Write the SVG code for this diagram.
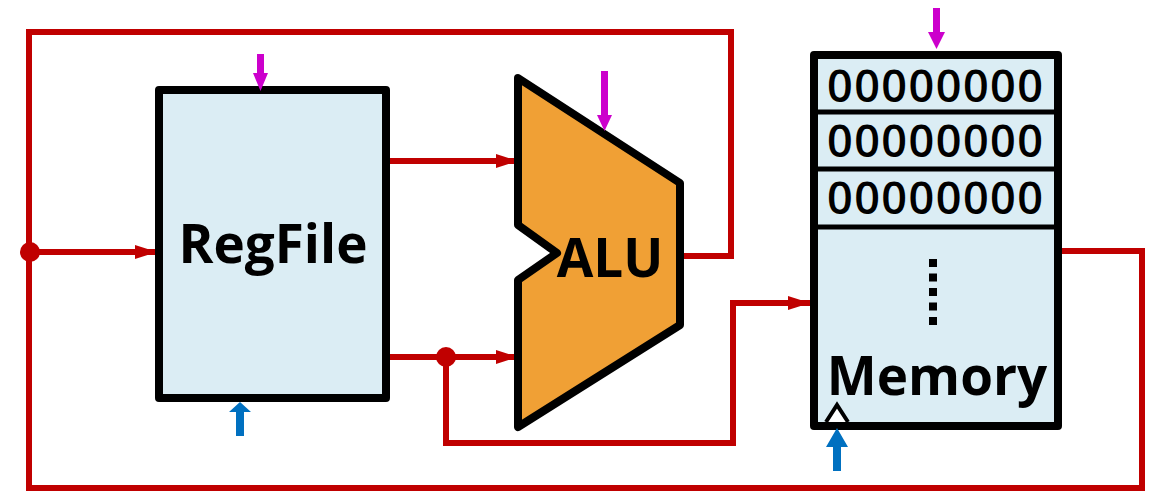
<svg xmlns="http://www.w3.org/2000/svg" width="1162" height="497" viewBox="0 0 1162 497">
<defs>
<style>
.wire{fill:none;stroke:#C00000;stroke-width:6;stroke-linejoin:miter}
.box{fill:#DBEDF4;stroke:#000;stroke-width:8;stroke-linejoin:round}
.lbl{font-family:"Open Sans","Liberation Sans",sans-serif;font-weight:bold;fill:#000}
.bits{font-family:"Open Sans","Liberation Sans",sans-serif;font-weight:600;font-size:45px;fill:#000}
.ctl{fill:#CC00CC}
.clk{fill:#0070C0}
</style>
<marker id="ah" markerUnits="userSpaceOnUse" markerWidth="24" markerHeight="14" refX="22" refY="7" orient="auto">
<path d="M0,0 L22,7 L0,14 Z" fill="#C00000"/>
</marker>
</defs>
<g id="connectors">
<polyline class="wire" points="683,256 731,256 731,32 29,32 29,488 1142,488 1142,251 1058,251"/>
<line class="wire" x1="29" y1="252" x2="157" y2="252" marker-end="url(#ah)"/>
<line class="wire" x1="390" y1="161" x2="518" y2="161" marker-end="url(#ah)"/>
<line class="wire" x1="390" y1="357" x2="518" y2="357" marker-end="url(#ah)"/>
<polyline class="wire" points="446,357 446,443 733,443 733,303 810,303" marker-end="url(#ah)"/>
<circle cx="30" cy="252" r="10" fill="#C00000"/>
<circle cx="446" cy="357" r="10" fill="#C00000"/>
</g>
<g id="regfile">
<rect class="box" x="159" y="90" width="227" height="308"/>
<text class="lbl" x="273" y="263" font-size="53" text-anchor="middle">RegFile</text>
<path class="ctl" d="M257,54 h7 v19 h4 l-7.5,18 l-7.5,-18 h4 z"/>
<path class="clk" d="M236,436 v-24 h-7 l11,-10 l11,10 h-7 v24 z"/>
</g>
<g id="alu">
<polygon points="518,78 680,183 680,325 518,427 518,280 557,253 518,225" fill="#F0A035" stroke="#000" stroke-width="8" stroke-linejoin="round"/>
<text class="lbl" x="610" y="277" font-size="53" text-anchor="middle">ALU</text>
<path class="ctl" d="M601,71 h7 v44 h4 l-7.5,16 l-7.5,-16 h4 z"/>
</g>
<g id="memory">
<rect class="box" x="814" y="55" width="244" height="371"/>
<line x1="814" y1="112" x2="1058" y2="112" stroke="#000" stroke-width="5"/>
<line x1="814" y1="169" x2="1058" y2="169" stroke="#000" stroke-width="5"/>
<line x1="814" y1="227" x2="1058" y2="227" stroke="#000" stroke-width="5"/>
<text class="bits" x="935" y="102" text-anchor="middle" textLength="216">00000000</text>
<text class="bits" x="935" y="157" text-anchor="middle" textLength="216">00000000</text>
<text class="bits" x="935" y="214" text-anchor="middle" textLength="216">00000000</text>
<g fill="#000">
<rect x="929" y="259" width="8" height="8"/>
<rect x="929" y="273.5" width="8" height="8"/>
<rect x="929" y="288" width="8" height="8"/>
<rect x="929" y="302.5" width="8" height="8"/>
<rect x="929" y="317" width="8" height="8"/>
</g>
<text class="lbl" x="937" y="395" font-size="53" text-anchor="middle">Memory</text>
<polyline points="826,422 837,405 848,422" fill="#fff" stroke="#000" stroke-width="4"/>
<path class="ctl" d="M933,8 h7 v24 h5 l-8.5,17 l-8.5,-17 h5 z"/>
<path class="clk" d="M833,471 v-24 h-7 l11,-19 l11,19 h-7 v24 z"/>
</g>
</svg>
